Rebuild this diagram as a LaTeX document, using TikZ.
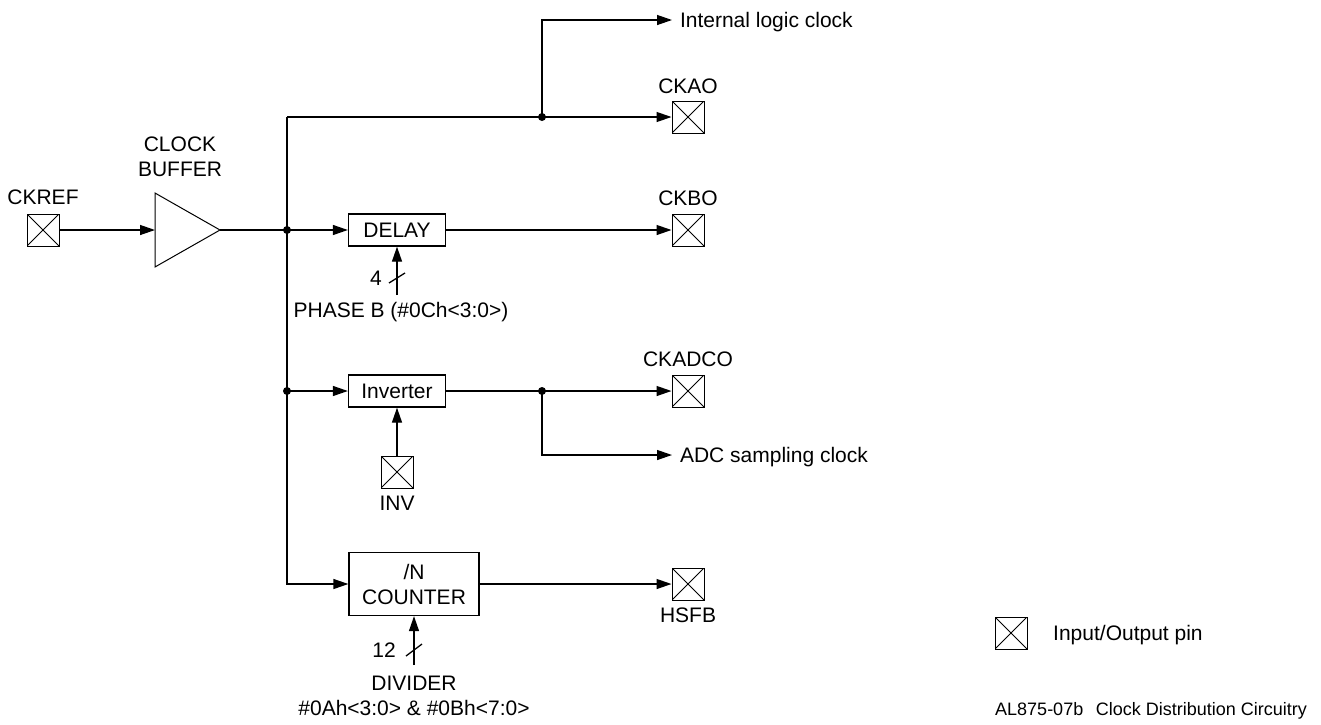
\documentclass[tikz,border=0pt]{standalone}
\usepackage{fontspec}
\setmainfont{Liberation Sans}
\usetikzlibrary{shapes.geometric, arrows.meta, positioning, calc}
\tikzset{
	iopin/.style={rectangle, draw, line width=1pt, minimum size=32pt, inner sep=0pt,
		path picture={\draw[line width=1pt] (path picture bounding box.south west) -- (path picture bounding box.north east)
			(path picture bounding box.north west) -- (path picture bounding box.south east);}},
	fblock/.style={rectangle, draw, line width=1.3pt, minimum width=97pt, minimum height=32pt,
		inner sep=0pt, align=center},
	buffer/.style={isosceles triangle, isosceles triangle stretches, draw, line width=1pt,
		minimum width=74pt, minimum height=65pt, inner sep=0pt, outer sep=0pt},
	wire/.style={line width=1.3pt},
	arrow/.style={wire, -{Triangle[length=15pt, width=10pt]}},
	joint/.style={circle, fill, inner sep=0pt, minimum size=8pt},
	lbl/.style={inner sep=0pt, text depth=0pt, align=center},
	sig/.style={lbl, anchor=west, outer sep=8pt},
	% bus width mark
	busmark/.style={wire},
}

\begin{document}
\begin{tikzpicture}[x=1pt, y=-1pt, every node/.style={font=\fontsize{21}{25}\selectfont}]
	\useasboundingbox (0,0) rectangle (1321,724);
	% input side
	\node[iopin](ckref) at (43,230){};
	\node[lbl,above=9pt of ckref](ckreflbl){CKREF};
	\node[buffer,anchor=lower side](buf) at (155,230){};
	\node[lbl,anchor=south](buflbl) at (180,177){CLOCK\\BUFFER};
	\draw[arrow](ckref.east)--(buf.lower side);
	% trunk
	\node[joint](jbuf) at (287,230){};
	\node[joint](jinv) at (287,391){};
	\coordinate(ttop) at (287,117);
	\draw[wire](buf.apex)--(jbuf.center);
	% output pins
	\node[iopin](ckao) at (688,117){};
	\node[lbl,above=7pt of ckao](ckaolbl){CKAO};
	\node[iopin](ckbo) at (688,230){};
	\node[lbl,above=8pt of ckbo](ckbolbl){CKBO};
	\node[iopin](ckadco) at (688,391){};
	\node[lbl,above=8pt of ckadco](ckadcolbl){CKADCO};
	\node[iopin](hsfb) at (688,584){};
	\node[lbl,below=7pt of hsfb](hsfblbl){HSFB};
	% blocks
	\node[fblock](delay) at (397,230){DELAY};
	\node[fblock](inv) at (397,391){Inverter};
	\node[fblock,minimum width=130pt,minimum height=63pt](counter) at (414,584){/N\\COUNTER};
	% internal clocks
	\node[joint](jtop) at (542,117){};
	\node[sig](ilc) at (672,20){Internal logic clock};
	\node[joint](jadc) at (542,391){};
	\node[sig](adc) at (672,455){ADC sampling clock};
	% wiring
	\draw[arrow](ttop)--(ckao.west);
	\draw[arrow](ttop)--(ttop|-counter.west)--(counter.west);
	\draw[arrow](jtop.center)|-(ilc.west);
	\draw[arrow](jbuf.center)--(delay.west);
	\draw[arrow](delay.east)--(ckbo.west);
	\draw[arrow](jinv.center)--(inv.west);
	\draw[wire](inv.east)--(jadc.center);
	\draw[arrow](jadc.center)--(ckadco.west);
	\draw[arrow](jadc.center)|-(adc.west);
	\draw[arrow](counter.east)--(hsfb.west);
	% control inputs
	\node[lbl](phase) at (401,310){PHASE B (\#0Ch<3:0>)};
	\draw[arrow]([yshift=7pt]phase.north-|delay.south)--(delay.south);
	\coordinate(s4) at (397,278);
	\draw[busmark]([shift={(-8pt,-5pt)}]s4)--([shift={(8pt,5pt)}]s4);
	\node[lbl](w4) at (376,278){4};
	\node[iopin](invpin) at (397,472){};
	\node[lbl,below=7pt of invpin](invlbl){INV};
	\draw[arrow](invpin.north)--(inv.south);
	\node[lbl](divider) at (414,696){DIVIDER\\\#0Ah<3:0> \& \#0Bh<7:0>};
	\draw[arrow]([yshift=11pt]divider.north-|counter.south)--(counter.south);
	\coordinate(s12) at (414,650);
	\draw[busmark]([shift={(-8pt,-6pt)}]s12)--([shift={(8pt,6pt)}]s12);
	\node[lbl](w12) at (384,650){12};
	% legend
	\node[iopin](legpin) at (1011,633){};
	\node[lbl,anchor=west](legtxt) at (1053,633){Input/Output pin};
	\node[lbl,anchor=west,font=\fontsize{18}{21}\selectfont](footer) at (995,709){AL875-07b\hspace{0.7em}Clock Distribution Circuitry};
\end{tikzpicture}
\end{document}
